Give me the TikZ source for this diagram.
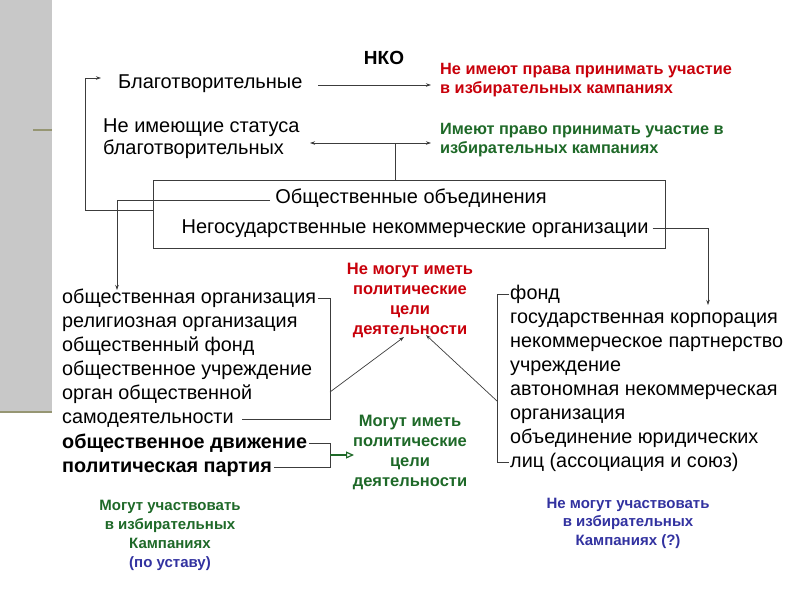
\documentclass[tikz,border=0pt]{standalone}
\usepackage{fontspec}
\setmainfont{Liberation Sans}
\usetikzlibrary{arrows.meta}
\definecolor{panelgrey}{RGB}{200,200,200}
\definecolor{panelline}{RGB}{150,150,115}
\definecolor{darkred}{RGB}{200,0,10}
\definecolor{dgreen}{RGB}{30,105,40}
\definecolor{dblue}{RGB}{50,50,160}
\definecolor{conn}{RGB}{60,60,60}
\tikzset{
  lbl/.style={inner sep=0pt, font=\fontsize{20}{22}\selectfont, text=black},
  item/.style={inner sep=0pt, anchor=west, text height=14pt, text depth=4pt, font=\fontsize{19.8}{21}\selectfont, text=black},
  itemb/.style={item, font=\fontsize{19.8}{21}\selectfont\bfseries},
  note/.style={inner sep=0pt, align=center, font=\fontsize{16.5}{20}\selectfont\bfseries},
  topnote/.style={inner sep=0pt, align=left, anchor=west, font=\fontsize{16.3}{18.7}\selectfont\bfseries},
  cn/.style={draw=conn, line width=0.7pt},
  arr/.style={cn, -{Stealth[length=5pt,width=3.5pt]}},
}
\begin{document}
\begin{tikzpicture}[x=1pt,y=-1pt]
\useasboundingbox (0,0) rectangle (800,600);
% side panel
\fill[panelgrey] (0,0) rectangle (52,412);
\draw[panelline, line width=2pt] (0,412) -- (52,412);
\draw[panelline, line width=1.2pt] (33,130) -- (52,130);

% top
\node[inner sep=0pt, font=\fontsize{19}{22}\selectfont\bfseries] (nko) at (384,58) {НКО};
\node[lbl, anchor=west, text height=14pt, text depth=4pt] (blag) at (118,83) {Благотворительные};
\node[lbl, anchor=west, align=left] (neim) at (103,139) {Не имеющие статуса\\благотворительных};
\node[topnote, text=darkred] (nepr) at (440,80) {Не имеют права принимать участие\\в избирательных кампаниях};
\node[topnote, text=dgreen] (impr) at (440,140) {Имеют право принимать участие в\\избирательных кампаниях};

% box
\node[draw=conn, line width=0.8pt, minimum width=512pt, minimum height=68pt, inner sep=0pt] (box) at (409,214) {};
\node[lbl, text height=14pt, text depth=4pt] (oo) at (411,198) {Общественные объединения};
\node[lbl, text height=14pt, text depth=4pt] (ngo) at (415,228) {Негосударственные некоммерческие организации};

% connectors top
\coordinate (bL) at (153,210);
\draw[arr] (bL) -- (85,210) -- (85,78) -- (101,78);
\coordinate (ba) at (318,85);
\draw[arr] (ba) -- (431,85);
\coordinate (jt) at (395,143);
\draw[cn] (box.north -| jt) -- (jt);
\draw[arr] (jt) -- (310,143);
\draw[arr] (jt) -- (431,143);
\coordinate (oL) at (117,200);
\draw[arr] ([xshift=-5pt]oo.west |- oL) -- (oL) -- (117,290);
\coordinate (nR) at (708,228);
\draw[arr] ([xshift=4pt]ngo.east |- nR) -- (nR) -- (708,305);

% left list
\node[item] (l1) at (62,298) {общественная организация};
\node[item] (l2) at (62,322) {религиозная организация};
\node[item] (l3) at (62,346) {общественный фонд};
\node[item] (l4) at (62,370) {общественное учреждение};
\node[item] (l5) at (62,394) {орган общественной};
\node[item] (l6) at (62,418) {самодеятельности};
\node[itemb] (l7) at (62,443) {общественное движение};
\node[itemb] (l8) at (62,467) {политическая партия};

\draw[cn] ([xshift=2pt]l1.east |- 0,298) -- (330,298) -- (330,419) -- ([xshift=8pt]l6.east |- 0,419);
\draw[cn] ([xshift=2pt]l7.east |- 0,443) -- (330,443) -- (330,467) -- ([xshift=2pt]l8.east |- 0,467);
\draw[dgreen, line width=1.2pt, -{Triangle[open,length=8pt,width=7pt]}] (330,455) -- (354,455);

% middle notes
\node[note, text=darkred] (nm) at (410,300) {Не могут иметь\\политические\\цели\\деятельности};
\node[note, text=dgreen] (mm) at (410,452) {Могут иметь\\политические\\цели\\деятельности};
\draw[arr] (330,392) -- (404,337);
\draw[arr] (497,401) -- (426,335);

% right list
\node[item] (r1) at (510,294) {фонд};
\node[item] (r2) at (510,318) {государственная корпорация};
\node[item] (r3) at (510,342) {некоммерческое партнерство};
\node[item] (r4) at (510,366) {учреждение};
\node[item] (r5) at (510,390) {автономная некоммерческая};
\node[item] (r6) at (510,414) {организация};
\node[item] (r7) at (510,438) {объединение юридических};
\node[item] (r8) at (510,462) {лиц (ассоциация и союз)};
\draw[cn] ([xshift=-1pt]r1.west |- 0,294) -- (497,294) -- (497,462) -- ([xshift=-1pt]r8.west |- 0,462);

% bottom notes
\node[inner sep=0pt, align=center, font=\fontsize{15}{19}\selectfont\bfseries] (bl) at (170,535) {\textcolor{dgreen}{Могут участвовать}\\\textcolor{dgreen}{в избирательных}\\\textcolor{dgreen}{Кампаниях}\\\textcolor{dblue}{(по уставу)}};
\node[inner sep=0pt, align=center, text=dblue, font=\fontsize{15}{18.5}\selectfont\bfseries] (br) at (628,523) {Не могут участвовать\\в избирательных\\Кампаниях (?)};
\end{tikzpicture}
\end{document}
